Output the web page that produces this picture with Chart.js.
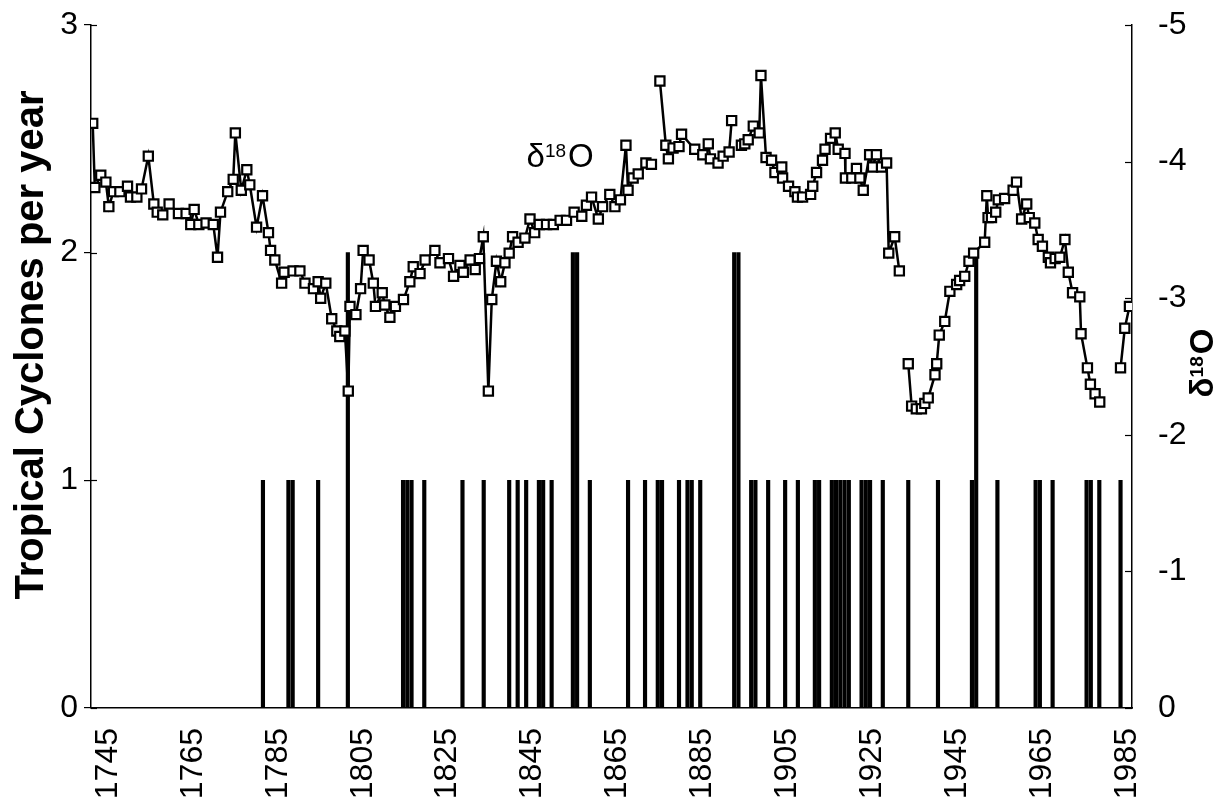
<!DOCTYPE html>
<html>
<head>
<meta charset="utf-8">
<title>Tropical cyclones and coral δ18O</title>
<script src="https://cdn.jsdelivr.net/npm/chart.js@4.4.1/dist/chart.umd.min.js"></script>
<style>
  html, body { margin: 0; padding: 0; background: #fff; }
  #wrap { width: 1216px; height: 799px; position: relative; }
</style>
</head>
<body>
<div id="wrap"><canvas id="chartCyclones"></canvas></div>
<script>

/* =========================
   DATA
========================= */

// coral d18O record (decimal years), null = gap in the record
const o18Years = [
  1741.4, 1741.9, 1743.3, 1744.5, 1745.2, 1746.3, 1747.8, 1749.6, 1750.3, 1751.8,
  1752.9, 1754.5, 1755.8, 1756.6, 1757.9, 1759.4, 1761.6, 1763.4, 1764.5, 1765.3,
  1766.4, 1768.1, 1769.8, 1770.8, 1771.5, 1773.2, 1774.5, 1775.0, 1776.4, 1777.7,
  1778.4, 1780.0, 1781.4, 1782.8, 1783.3, 1784.3, 1785.9, 1786.5, 1788.6, 1790.2,
  1791.4, 1793.4, 1794.5, 1795.1, 1796.3, 1797.7, 1798.9, 1799.6, 1800.8, 1801.6,
  1802.0, 1803.4, 1804.5, 1805.1, 1806.5, 1807.5, 1808.0, 1809.6, 1810.2, 1811.4,
  1812.7, 1814.6, 1816.1, 1816.9, 1818.5, 1819.7, 1822.0, 1823.2, 1825.2, 1826.4,
  1827.9, 1828.7, 1830.3, 1831.5, 1832.5, 1833.4, 1834.6, 1835.4, 1836.5, 1837.5,
  1838.5, 1839.5, 1840.3, 1841.6, 1843.2, 1844.4, 1845.5, 1846.6, 1848.3, 1849.9,
  1851.5, 1853.0, 1854.8, 1856.6, 1857.7, 1858.9, 1860.5, 1861.5, 1863.2, 1864.4,
  1865.7, 1867.0, 1867.5, 1868.7, 1869.9, 1871.7, 1873.0, 1874.0, 1875.0, 1876.4,
  1877.0, 1878.1, 1879.5, 1880.1, 1883.2, 1885.1, 1886.4, 1886.9, 1888.7, 1889.9,
  1891.3, 1891.9, 1893.0, 1894.2, 1895.0, 1895.8, 1897.0, 1898.4, 1898.8, 1900.0,
  1901.3, 1902.1, 1903.7, 1903.9, 1905.3, 1906.8, 1907.4, 1908.6, 1910.5, 1911.0,
  1911.9, 1913.3, 1913.9, 1915.2, 1916.3, 1917.0, 1918.6, 1918.7, 1920.2, 1921.3,
  1922.1, 1922.9, 1924.4, 1925.1, 1926.0, 1927.2, 1928.4, 1928.9, 1930.3, 1931.4,
  1932.5, 1933.5, 1934.3, 1935.4, 1936.6, 1937.4, 1938.2, 1939.8, 1940.2, 1940.8,
  1942.1, 1943.3, 1944.9, 1945.6, 1946.8, 1947.8, 1948.9, 1951.5, 1952.0, 1952.3,
  1953.1, 1954.1, 1954.7, 1956.2, 1958.2, 1959.0, 1960.2, 1961.4, 1962.0, 1963.3,
  1964.1, 1965.1, 1966.5, 1967.0, 1968.1, 1969.2, 1970.4, 1971.2, 1972.2, 1973.9,
  1974.2, 1975.7, 1976.4, 1977.5, 1978.6, 1981.0, 1983.5, 1984.5, 1985.6
];

const o18Values = [
  -4.28, -3.81, -3.90, -3.85, -3.67, -3.78, -3.78, -3.82, -3.74, -3.74,
  -3.80, -4.04, -3.69, -3.63, -3.61, -3.69, -3.62, -3.62, -3.54, -3.65,
  -3.54, -3.55, -3.54, -3.30, -3.63, -3.78, -3.87, -4.21, -3.79, -3.94,
  -3.83, -3.52, -3.75, -3.48, -3.35, -3.28, -3.11, -3.19, -3.20, -3.20,
  -3.11, -3.07, -3.12, -3.00, -3.11, -2.85, -2.76, -2.72, -2.76, -2.32,
  -2.94, -2.88, -3.07, -3.35, -3.28, -3.11, -2.94, -3.04, -2.95, -2.86,
  -2.94, -2.99, -3.12, -3.23, -3.18, -3.28, -3.35, -3.26, -3.29, -3.16,
  -3.24, -3.19, -3.28, -3.21, -3.29, -3.45, -2.32, -2.99, -3.27, -3.12,
  -3.26, -3.33, -3.45, -3.41, -3.44, -3.58, -3.48, -3.54, -3.54, -3.54,
  -3.57, -3.57, -3.63, -3.60, -3.68, -3.74, -3.58, -3.67, -3.76, -3.67,
  -3.72, -4.12, -3.79, -3.88, -3.91, -3.99, -3.98, null, -4.59, -4.12,
  -4.02, -4.10, -4.11, -4.20, -4.09, -4.05, -4.13, -4.02, -3.99, -4.04,
  -4.07, -4.30, null, -4.12, -4.13, -4.16, -4.26, -4.21, -4.63, -4.03,
  -4.01, -3.92, -3.96, -3.88, -3.82, -3.78, -3.74, -3.74, -3.76, -3.82,
  -3.92, -4.01, -4.09, -4.17, -4.21, -4.09, -4.06, -3.88, -3.88, -3.95,
  -3.88, -3.79, -4.05, -3.96, -4.05, -3.96, -3.99, -3.33, -3.45, -3.20,
  null, -2.52, -2.21, -2.19, -2.19, -2.23, -2.27, -2.44, -2.52, -2.73,
  -2.83, -3.05, -3.10, -3.13, -3.16, -3.27, -3.33, -3.41, -3.75, -3.59,
  -3.59, -3.63, -3.72, -3.73, -3.79, -3.85, -3.58, -3.69, -3.59, -3.55,
  -3.43, -3.38, -3.30, -3.26, -3.29, -3.30, -3.43, -3.19, -3.04, -3.01,
  -2.74, -2.49, -2.37, -2.30, -2.24, null, -2.49, -2.78, -2.94
];

// years with tropical cyclones and the number per year
const cycloneYears = [
  1781, 1787, 1788, 1794, 1801, 1814, 1815, 1816, 1819, 1828,
  1833, 1839, 1841, 1843, 1846, 1847, 1849, 1854, 1855, 1858,
  1867, 1871, 1874, 1875, 1879, 1881, 1882, 1884, 1892, 1893,
  1896, 1897, 1900, 1904, 1907, 1911, 1912, 1915, 1916, 1917,
  1918, 1919, 1922, 1923, 1924, 1927, 1933, 1940, 1948, 1949,
  1954, 1963, 1964, 1967, 1975, 1976, 1978, 1983
];

const cycloneCounts = [
  1, 1, 1, 1, 2, 1, 1, 1, 1, 1,
  1, 1, 1, 1, 1, 1, 1, 2, 2, 1,
  1, 1, 1, 1, 1, 1, 1, 1, 2, 2,
  1, 1, 1, 1, 1, 1, 1, 1, 1, 1,
  1, 1, 1, 1, 1, 1, 1, 1, 1, 2,
  1, 1, 1, 1, 1, 1, 1, 1
];

const yearTicks = [1745, 1765, 1785, 1805, 1825, 1845, 1865, 1885, 1905, 1925, 1945, 1965, 1985];
const cycloneTicks = [0, 1, 2, 3];
const o18Ticks = [0, -1, -2, -3, -4, -5];

/* =========================
   HELPERS
========================= */

const FONT = '"Liberation Sans", Arial, Helvetica, sans-serif';

Chart.defaults.font.family = FONT;
Chart.defaults.color = '#000';

// "δ18O" with a raised 18, centred on (0, 0) of the current transform
function drawDelta18O(ctx, size, weight) {
  const small = Math.round(size * 0.58);
  ctx.font = weight + ' ' + size + 'px ' + FONT;
  const wD = ctx.measureText('δ').width;
  const wO = ctx.measureText('O').width;
  ctx.font = weight + ' ' + small + 'px ' + FONT;
  const w18 = ctx.measureText('18').width;
  const total = wD + w18 + wO + 2;
  let x = -total / 2;
  ctx.textAlign = 'left';
  ctx.textBaseline = 'alphabetic';
  ctx.font = weight + ' ' + size + 'px ' + FONT;
  ctx.fillText('δ', x, size * 0.36);
  x += wD;
  ctx.font = weight + ' ' + small + 'px ' + FONT;
  ctx.fillText('18', x, size * 0.36 - size * 0.3);
  x += w18 + 2;
  ctx.font = weight + ' ' + size + 'px ' + FONT;
  ctx.fillText('O', x, size * 0.36);
}

const extrasPlugin = {
  id: 'extras',
  afterDraw(chart) {
    const ctx = chart.ctx;
    const xs = chart.scales.x;
    const yl = chart.scales.y;
    const yr = chart.scales.o18;

    ctx.save();
    ctx.strokeStyle = '#000';
    ctx.lineWidth = 1.2;

    // inner tick marks
    cycloneTicks.forEach(v => {
      const py = Math.round(yl.getPixelForValue(v)) + 0.5;
      ctx.beginPath();
      ctx.moveTo(chart.chartArea.left, py);
      ctx.lineTo(chart.chartArea.left + 6, py);
      ctx.stroke();
    });

    o18Ticks.forEach(v => {
      const py = Math.round(yr.getPixelForValue(v)) + 0.5;
      ctx.beginPath();
      ctx.moveTo(chart.chartArea.right - 7, py);
      ctx.lineTo(chart.chartArea.right, py);
      ctx.stroke();
    });

    ctx.fillStyle = '#000';

    // left axis title, reading upwards
    ctx.save();
    ctx.translate(32, 345);
    ctx.rotate(-Math.PI / 2);
    ctx.font = 'bold 40px ' + FONT;
    ctx.textAlign = 'center';
    ctx.textBaseline = 'middle';
    ctx.fillText('Tropical Cyclones per year', 0, 0);
    ctx.restore();

    // series label inside the plot
    ctx.save();
    ctx.translate(xs.getPixelForValue(1851.5), yl.getPixelForValue(2.43));
    drawDelta18O(ctx, 33, 'normal');
    ctx.restore();

    // right axis title, reading upwards
    ctx.save();
    ctx.translate(1201, 363);
    ctx.rotate(-Math.PI / 2);
    drawDelta18O(ctx, 33, 'bold');
    ctx.restore();

    ctx.restore();
  }
};

/* =========================
   CHART
========================= */

const o18Points = o18Years.map((yr, i) => ({ x: yr, y: o18Values[i] }));
const cyclonePoints = cycloneYears.map((yr, i) => ({ x: yr + 0.5, y: cycloneCounts[i] }));

// keep the tick label overhang from pushing the plot area down
function fixVertical(width) {
  return scale => {
    scale.width = width;
    scale.paddingTop = 18;
    scale.paddingBottom = 18;
  };
}

new Chart(document.getElementById('chartCyclones'), {

  type: 'line',

  data: {
    datasets: [
      {
        label: 'δ18O',
        type: 'line',
        yAxisID: 'o18',
        data: o18Points,
        borderColor: '#000',
        borderWidth: 2.5,
        pointStyle: 'rect',
        pointRadius: 6.5,
        pointBorderWidth: 2.2,
        pointBorderColor: '#000',
        pointBackgroundColor: '#fff',
        spanGaps: false,
        tension: 0,
        order: 1
      },
      {
        label: 'Tropical cyclones',
        type: 'bar',
        yAxisID: 'y',
        data: cyclonePoints,
        backgroundColor: '#000',
        borderWidth: 0,
        barThickness: 3.5,
        grouped: false,
        order: 2
      }
    ]
  },

  options: {
    responsive: true,
    maintainAspectRatio: false,
    animation: false,
    layout: { padding: { top: 25, left: 0, right: 0, bottom: 0 } },

    plugins: {
      legend: { display: false },
      tooltip: { enabled: false }
    },

    scales: {

      x: {
        type: 'linear',
        min: 1741,
        max: 1986.2,
        offset: false,
        afterBuildTicks: scale => {
          scale.ticks = yearTicks.map(v => ({ value: v }));
        },
        afterFit: scale => { scale.height = 91; },
        grid: { display: true, drawOnChartArea: false, drawTicks: false, offset: false },
        border: { display: true, color: '#000', width: 1.5 },
        ticks: {
          autoSkip: false,
          minRotation: 90,
          maxRotation: 90,
          padding: 20,
          font: { size: 32 },
          callback: v => String(v)
        }
      },

      y: {
        position: 'left',
        min: 0,
        max: 3,
        afterBuildTicks: scale => {
          scale.ticks = cycloneTicks.map(v => ({ value: v }));
        },
        afterFit: fixVertical(91),
        grid: { drawOnChartArea: false, drawTicks: true, tickLength: 7, color: '#000', lineWidth: 1.2 },
        border: { display: true, color: '#000', width: 1.5 },
        ticks: { padding: 6, font: { size: 32 }, callback: v => String(v) }
      },

      o18: {
        position: 'right',
        min: -5,
        max: 0,
        reverse: true,
        afterBuildTicks: scale => {
          scale.ticks = o18Ticks.map(v => ({ value: v }));
        },
        afterFit: fixVertical(84),
        grid: { drawOnChartArea: false, drawTicks: false },
        border: { display: true, color: '#000', width: 1.5 },
        ticks: { padding: 26, font: { size: 32 }, callback: v => String(v) }
      }

    }
  },

  plugins: [extrasPlugin]

});

</script>
</body>
</html>
